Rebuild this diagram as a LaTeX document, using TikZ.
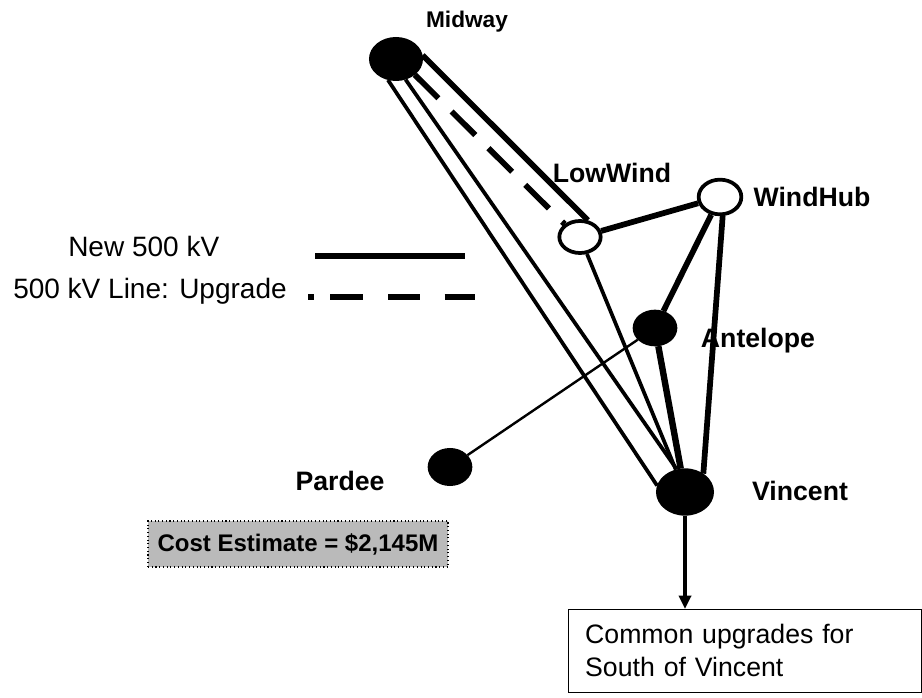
\documentclass[tikz,border=0pt]{standalone}
\usepackage{fontspec}
\setmainfont{Liberation Sans}
\usepackage{tikz}
\usetikzlibrary{arrows.meta,positioning,shapes.geometric}
\tikzset{
  busdark/.style={ellipse,draw,fill=black,line width=1.5pt,inner sep=0pt},
  buslight/.style={ellipse,draw,fill=white,line width=2.8pt,inner sep=0pt},
  buslabel/.style={font=\bfseries\fontsize{20}{24}\selectfont,inner sep=0pt},
  lgdtext/.style={font=\fontsize{21}{25}\selectfont,inner sep=0pt},
  newln/.style={line width=4.3pt},
  upgln/.style={line width=4.3pt,dash pattern=on 25pt off 14pt},
  midln/.style={line width=2.8pt},
  feedln/.style={line width=1.8pt},
}
\begin{document}
\begin{tikzpicture}[x=0.75pt,y=-0.75pt]
\useasboundingbox (0,0) rectangle (922,698);
  % substations
\node[busdark,minimum width=39pt,minimum height=31.5pt] (mid) at (396,59) {};
\node[buslight,minimum width=31pt,minimum height=24pt] (low) at (580,237) {};
\node[buslight,minimum width=32pt,minimum height=26pt] (hub) at (720,197) {};
\node[busdark,minimum width=32pt,minimum height=26pt] (ant) at (655,328) {};
\node[busdark,minimum width=32pt,minimum height=27pt] (par) at (450,467) {};
\node[busdark,minimum width=42pt,minimum height=34pt] (vin) at (685,492) {};
\node[buslabel,font=\bfseries\fontsize{17}{20}\selectfont] (midlbl) at (467,22) {Midway};
\node[buslabel] (lowlbl) at (612,173) {LowWind};
\node[buslabel] (hublbl) at (812,197) {WindHub};
\node[buslabel] (antlbl) at (758,341) {Antelope};
\node[buslabel] (parlbl) at (340,481) {Pardee};
\node[buslabel] (vinlbl) at (800,491) {Vincent};
  % lines
\draw[newln] (mid.8) -- (low.65);
\draw[upgln] (mid.-40) -- (low.140);
\draw[midln] (mid.249) -- (vin.167);
\draw[midln] (mid.295) -- (vin.110);
\draw[midln] (low) -- (vin);
\draw[newln] (low) -- (hub);
\draw[newln] (hub) -- (ant);
\draw[newln] (hub.278) -- (vin.45);
\draw[line width=4.8pt] (ant) -- (vin);
\draw[feedln] (par) -- (ant);
  % legend
\node[lgdtext,anchor=base west] (lgnew) at (68,257) {New 500 kV};
\node[lgdtext,anchor=base west] (lgupg) at (13,299) {500 kV Line: Upgrade};
\coordinate (lgA) at (315,256);
\coordinate (lgB) at (465,256);
\coordinate (lgC) at (308,297);
\coordinate (lgD) at (475,297);
\draw[newln] (lgA) -- (lgB);
\draw[line width=4pt,dash pattern=on 4.5pt off 12pt on 25pt off 18.5pt on 24pt off 18.5pt on 23pt off 20pt] (lgC) -- (lgD);
  % cost and downstream
\node[draw,dotted,line width=0.8pt,fill=black!27,minimum width=225pt,minimum height=34.5pt,font=\bfseries\fontsize{18}{22}\selectfont] (cost) at (298,544) {Cost Estimate = \$2,145M};
\node[draw,line width=0.8pt,anchor=north west,minimum width=265pt,minimum height=62pt,inner xsep=11pt,text width=240pt,align=left,font=\fontsize{20}{24.75}\selectfont] (sov) at (568,609) {Common upgrades for\\South of Vincent};
\draw[-{Triangle[length=10pt,width=9pt]},line width=2.6pt] (vin) -- (vin |- sov.north);
\end{tikzpicture}
\end{document}
